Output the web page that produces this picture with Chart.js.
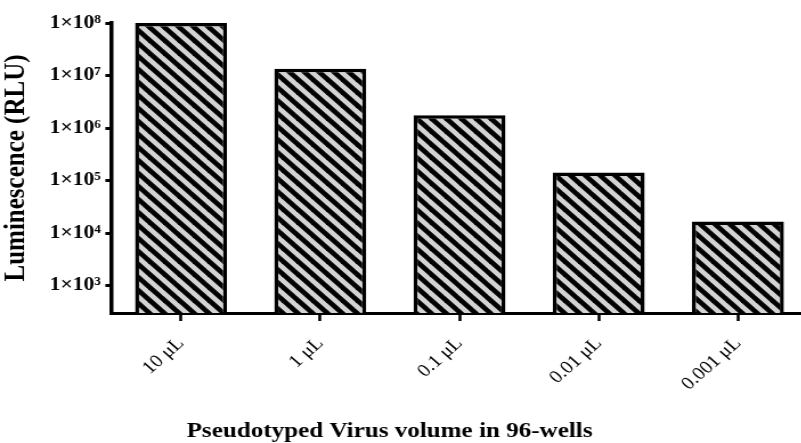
<!DOCTYPE html>
<html>
<head>
<meta charset="utf-8">
<script src="https://cdn.jsdelivr.net/npm/chart.js@4"></script>
<style>
html, body { margin: 0; padding: 0; overflow: hidden; background: #fff; }
#wrap { width: 712px; height: 443px; transform: scaleX(1.14); transform-origin: 0 0; }
</style>
</head>
<body>
<div id="wrap"><canvas id="myChart"></canvas></div>
<script>
var categories = ['10 μL', '1 μL', '0.1 μL', '0.01 μL', '0.001 μL'];
var luminescence = [1.0e8, 1.35e7, 1.75e6, 1.42e5, 1.65e4];
var yTickValues = [1e3, 1e4, 1e5, 1e6, 1e7, 1e8];
var xTitle = 'Pseudotyped Virus volume in 96-wells';

var serif = "'Liberation Serif', 'Times New Roman', serif";
var sup = '⁰¹²³⁴⁵⁶⁷⁸⁹';

// diagonal hatch, black stripes on light grey
function makeHatch() {
    var p = 13;
    var c = document.createElement('canvas');
    c.width = p; c.height = p;
    var g = c.getContext('2d');
    g.fillStyle = '#d3d3d3';
    g.fillRect(0, 0, p, p);
    g.strokeStyle = '#000';
    g.lineWidth = 4.6;
    [-p, 0, p].forEach(function(k) {
        g.beginPath();
        g.moveTo(k - 3, -3);
        g.lineTo(k + p + 3, p + 3);
        g.stroke();
    });
    return g.createPattern(c, 'repeat');
}

// x axis title sits left of the plot centre in the original
var xTitlePlugin = {
    id: 'xTitle',
    afterDraw: function(chart) {
        var c = chart.ctx;
        c.save();
        c.fillStyle = '#000';
        c.font = 'bold 22px ' + serif;
        c.textAlign = 'center';
        c.textBaseline = 'alphabetic';
        c.fillText(xTitle, chart.chartArea.left + 244, chart.height - 6);
        c.restore();
    }
};

var ctx = document.getElementById('myChart');
new Chart(ctx, {
    type: 'bar',
    data: {
        labels: categories,
        datasets: [{
            data: luminescence,
            backgroundColor: makeHatch(),
            borderColor: '#000',
            borderWidth: 3.5,
            barPercentage: 0.66,
            categoryPercentage: 1
        }]
    },
    options: {
        responsive: true,
        maintainAspectRatio: false,
        animation: false,
        layout: { padding: { top: 23, right: 3.6, left: 0, bottom: 0 } },
        plugins: {
            legend: { display: false },
            tooltip: { enabled: false }
        },
        scales: {
            x: {
                grid: { offset: false, drawOnChartArea: false, tickLength: 8, tickWidth: 2.6, tickColor: '#000' },
                border: { display: true, color: '#000', width: 3 },
                ticks: {
                    color: '#000',
                    font: { family: serif, size: 18 },
                    minRotation: 45, maxRotation: 45,
                    autoSkip: false,
                    padding: 12
                },
                afterFit: function(s) { s.height = 130; }
            },
            y: {
                type: 'logarithmic',
                min: 300,
                max: 1e8,
                grid: { drawOnChartArea: false, tickLength: 5.3, tickWidth: 3, tickColor: '#000' },
                border: { display: true, color: '#000', width: 3.5 },
                afterBuildTicks: function(s) {
                    s.ticks = yTickValues.map(function(v) { return { value: v }; });
                },
                ticks: {
                    color: '#000',
                    font: { family: serif, size: 19, weight: 'bold' },
                    padding: 4,
                    callback: function(v) {
                        var e = Math.round(Math.log10(v));
                        return '1×10' + sup[e];
                    }
                },
                title: {
                    display: true,
                    text: 'Luminescence (RLU)',
                    color: '#000',
                    font: { family: serif, size: 25, weight: 'bold', lineHeight: 1.2 },
                    padding: 0
                },
                afterFit: function(s) { s.width = 97.7; }
            }
        }
    },
    plugins: [xTitlePlugin]
});
</script>
</body>
</html>
